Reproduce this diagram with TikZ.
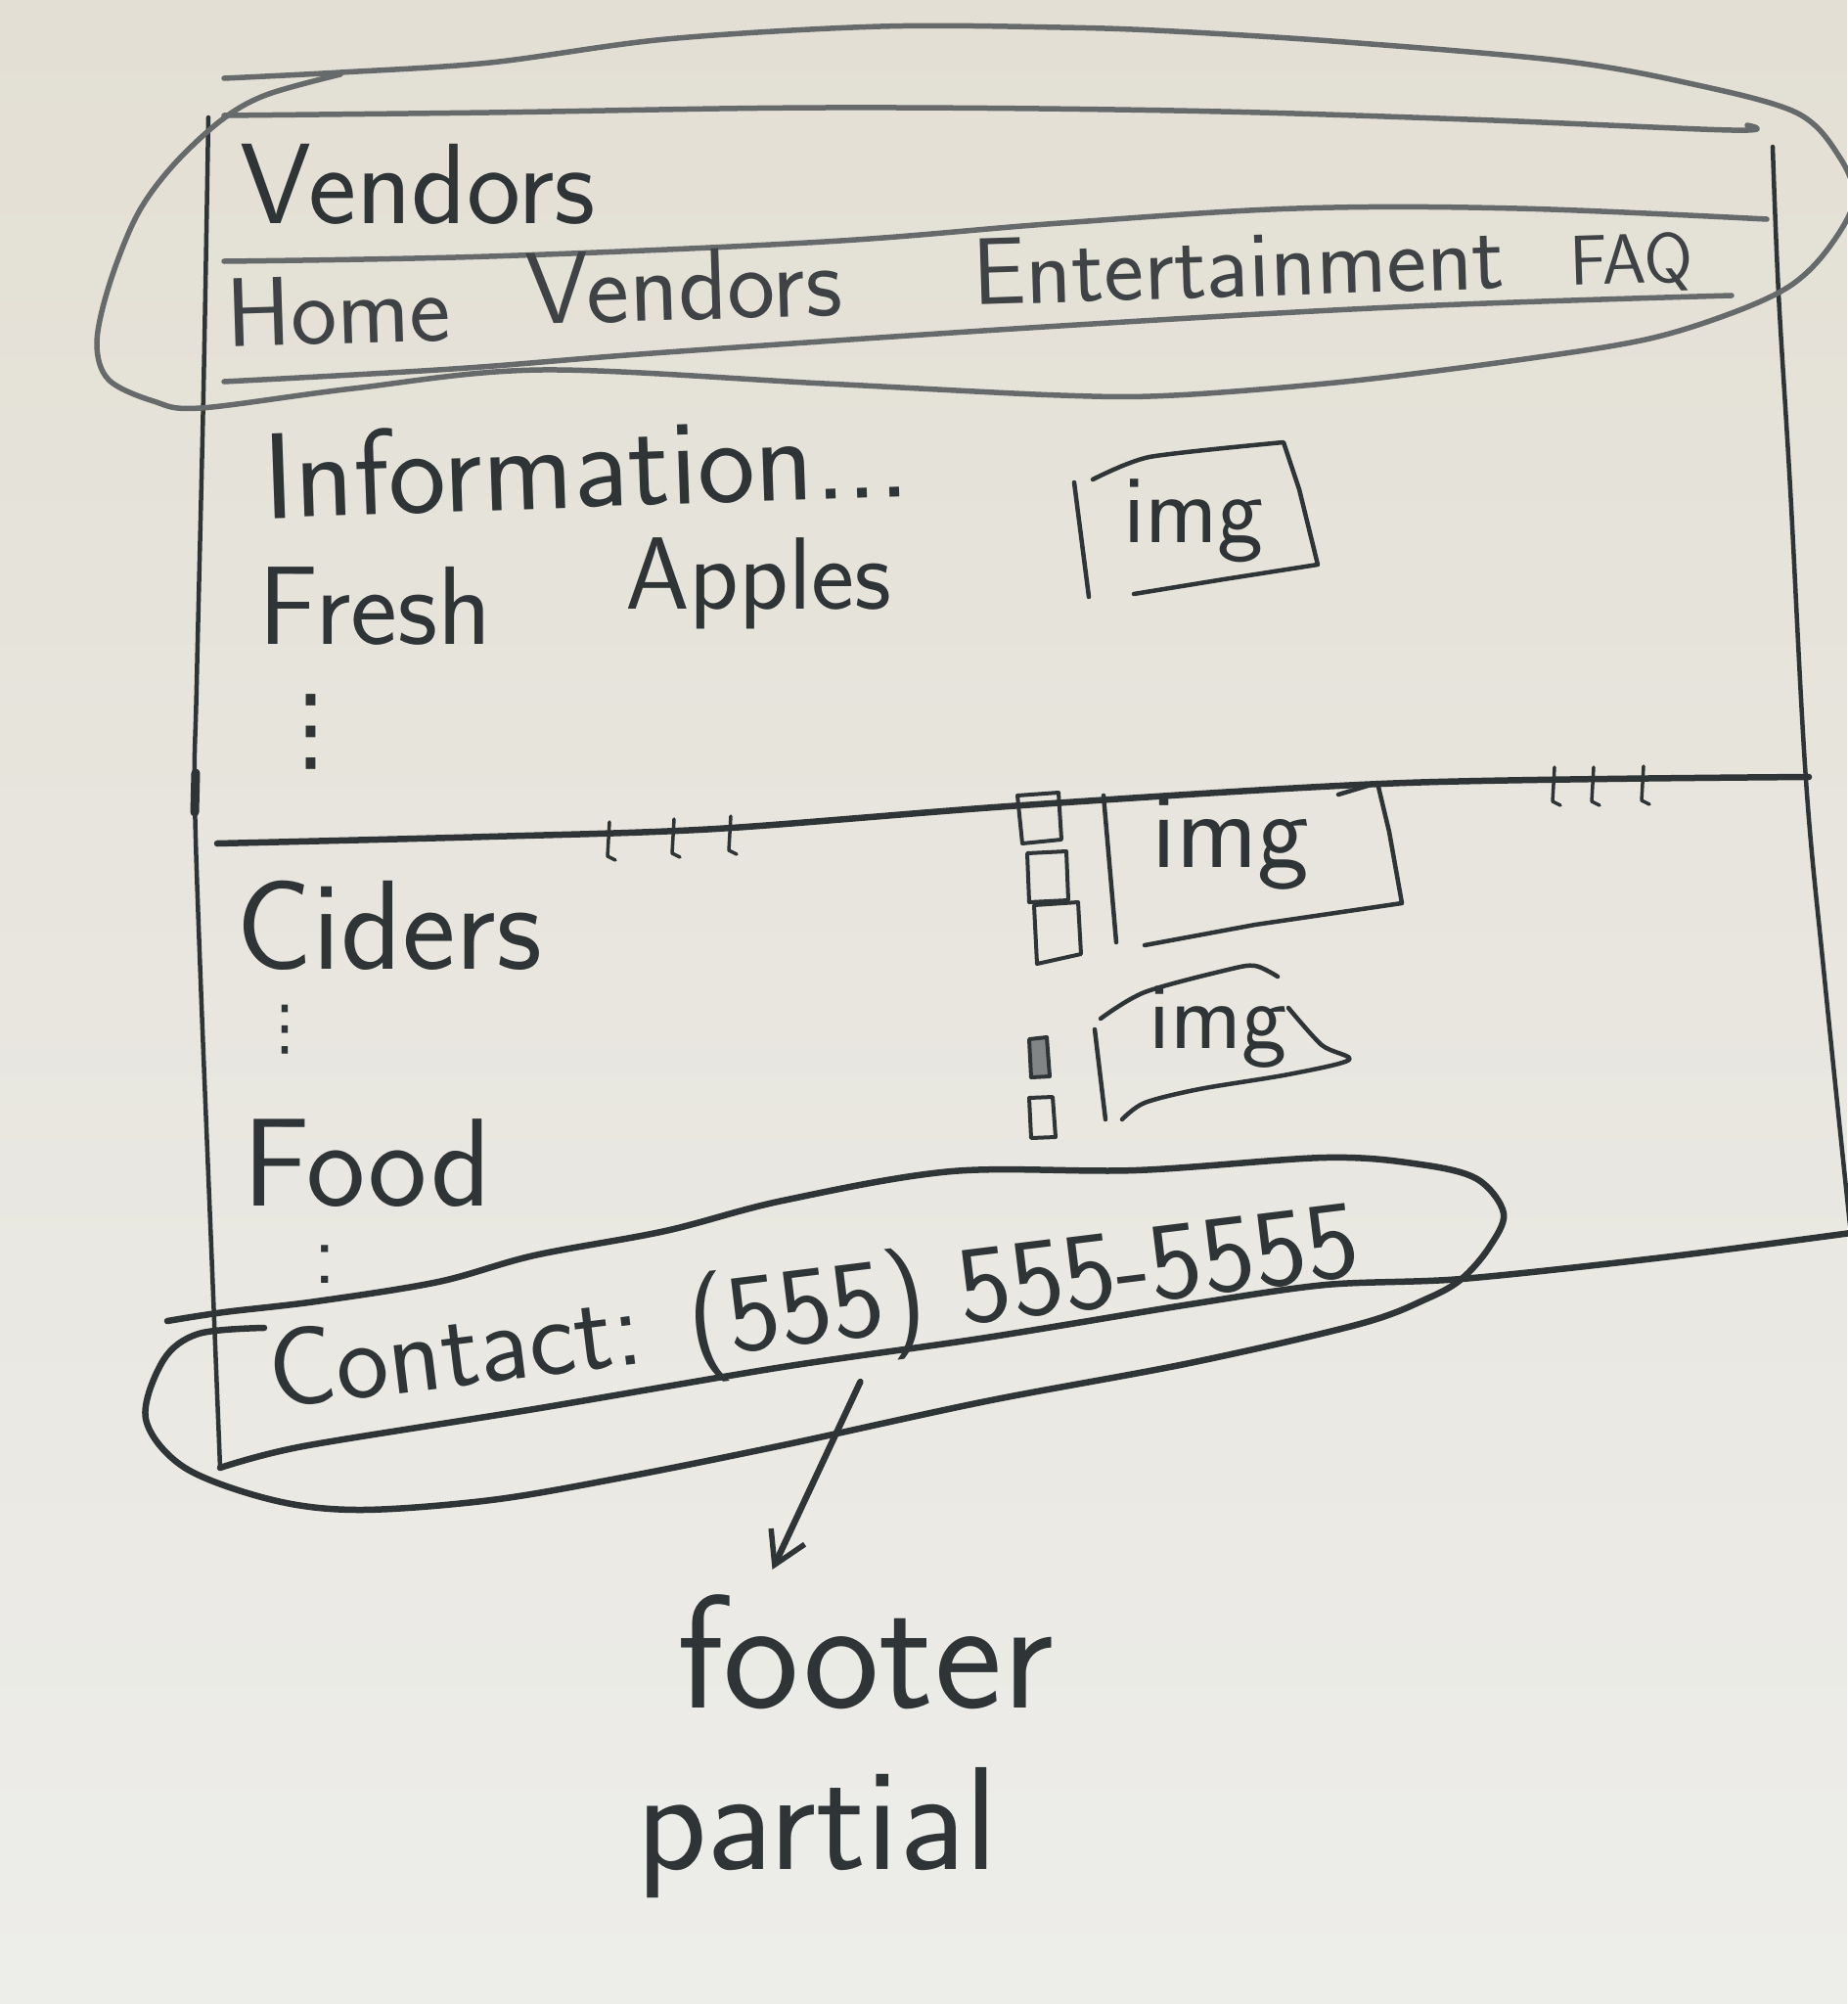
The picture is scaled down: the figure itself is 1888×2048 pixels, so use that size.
\documentclass[tikz,border=0pt]{standalone}
\usepackage{fontspec}
\newfontfamily\dotsfont{DejaVu Sans}
\usetikzlibrary{arrows.meta}
\definecolor{papertop}{HTML}{E3DFD4}
\definecolor{paperbot}{HTML}{EDEDEA}
\definecolor{inkc}{HTML}{2F3436}
\definecolor{navc}{HTML}{3F4345}
\definecolor{pencilc}{HTML}{676A6B}
\begin{document}
\begin{tikzpicture}[x=1pt,y=-1pt,
  ink/.style={draw=inkc, line width=6.5pt, line cap=round, line join=round},
  thinink/.style={draw=inkc, line width=4.5pt, line cap=round, line join=round},
  pencil/.style={draw=pencilc, line width=5.5pt, line cap=round, line join=round},
  hand/.style={font=\sffamily\fontsize{#1}{#1}\selectfont, text=inkc, inner sep=0pt},
  pointer/.style={ink, -{Straight Barb[length=32pt,width=38pt,line width=5.5pt]}}
]
% sheet of paper
\useasboundingbox (0,0) rectangle (1888,2048);
\shade[top color=papertop, bottom color=paperbot] (0,0) rectangle (1888,2048);

% ---------- page frame ----------
\draw[pencil] plot[smooth, tension=0.6] coordinates {(229,118) (500,115) (843,110) (1200,113) (1500,122) (1770,133) (1786,128)};
\draw[thinink] plot[smooth, tension=0.6] coordinates {(1812,150) (1818,300) (1830,500) (1846,797) (1865,1000) (1892,1262)};
\draw[thinink] plot[smooth, tension=0.6] coordinates {(213,120) (208,400) (201,700) (199,810) (205,1000) (217,1300) (225,1500)};
\draw[inkc, line width=9pt, line cap=round] (200,790) -- (199,830);
\draw[ink] plot[smooth, tension=0.5] coordinates {(225,1500) (310,1478) (546,1440) (800,1397) (1008,1367) (1216,1333) (1355,1313) (1494,1307) (1700,1285) (1892,1260)};

% header rows
\draw[pencil] plot[smooth, tension=0.6] coordinates {(229,267) (500,262) (843,247) (1084,228) (1325,213) (1551,213) (1806,224)};
\draw[pencil] plot[smooth, tension=0.6] coordinates {(229,390) (463,377) (681,360) (1084,333) (1445,313) (1770,302)};

% header loop
\draw[pencil] plot[smooth, tension=0.55] coordinates {(229,80) (348,74) (501,64) (681,40) (900,27) (1084,28) (1200,32) (1375,43) (1595,62) (1726,85) (1836,115) (1880,160) (1895,205) (1868,255) (1830,292) (1770,320) (1682,347) (1551,368) (1375,390) (1200,404) (1084,404) (843,392) (554,378) (361,397) (205,417) (157,410) (111,388) (99,350) (112,290) (140,220) (176,170) (226,123) (272,97) (348,76)};

% section divider with tick marks
\draw[ink] plot[smooth, tension=0.5] coordinates {(222,862) (500,855) (732,847) (1045,823) (1437,800) (1849,794)};
\foreach \tx/\ty in {623/853, 689/850, 747/847, 1589/797, 1629/797, 1680/796}
  \draw[thinink, line width=3.5pt] (\tx,\ty-13) -- (\tx-2,\ty+22) -- (\tx+6,\ty+26);

% ---------- header text ----------
\node[hand=117, anchor=base west] (title) at (245,228) {Vendors};
\node[hand=100, anchor=base west, rotate=1.8, text=navc] (navhome) at (232,355) {Home};
\node[hand=104, anchor=base west, rotate=1.8, text=navc] (navvend) at (538,332) {Vendors};
\node[hand=97, anchor=base west, rotate=1.8, text=navc] (navent) at (995,312) {Entertainment};
\node[hand=72, anchor=base west, rotate=1.8, text=navc] (navfaq) at (1605,292) {FAQ};

% ---------- first section ----------
\node[hand=125, anchor=base west, rotate=2] (info) at (270,530) {Information...};
\node[hand=114, anchor=base west] (fresh) at (264,658) {Fresh};
\node[hand=105, anchor=base west] (apples) at (639,622) {Apples};
\node[font=\dotsfont\fontsize{95}{95}\selectfont, text=inkc, inner sep=0pt] (moreinfo) at (318,748) {⋮};

\draw[thinink] (1098,493) -- (1113,610);
\draw[thinink] plot[smooth, tension=0.4] coordinates {(1117,490) (1175,467) (1312,452)} -- (1328,500) -- (1347,577) -- (1251,592) -- (1159,607);
\node[hand=100] (img1) at (1220,532) {img};

% ---------- second section ----------
\node[hand=130, anchor=base west] (ciders) at (241,990) {Ciders};
\node[font=\dotsfont\fontsize{62}{62}\selectfont, text=inkc, inner sep=0pt] (moreciders) at (291,1052) {⋮};
\node[hand=128, anchor=base west] (food) at (248,1232) {Food};
\node[hand=90, inner sep=0pt] (morefood) at (332,1292) {:};

% small handles beside the images
\draw[thinink, line width=4pt] (1040,813) -- (1082,810) -- (1085,858) -- (1045,862) -- cycle;
\draw[thinink, line width=4pt] (1050,872) -- (1090,870) -- (1092,920) -- (1052,922) -- cycle;
\draw[thinink, line width=4pt] (1057,925) -- (1102,922) -- (1105,975) -- (1060,985) -- cycle;
\draw[thinink, line width=4pt, fill=inkc!60] (1052,1062) -- (1070,1060) -- (1073,1100) -- (1054,1101) -- cycle;
\draw[thinink, line width=4pt] (1052,1122) -- (1076,1121) -- (1079,1162) -- (1054,1163) -- cycle;

\draw[thinink] (1128,813) -- (1141,963);
\draw[thinink] (1368,812) -- (1408,800) -- (1420,850) -- (1433,923) -- (1283,945) -- (1170,966);
\node[hand=112] (img2) at (1258,862) {img};

\draw[thinink] (1119,1052) -- (1130,1144);
\draw[thinink] plot[smooth, tension=0.5] coordinates {(1125,1041) (1170,1014) (1255,991) (1283,987) (1306,998)};
\draw[thinink] plot[smooth, tension=0.5] coordinates {(1317,1030) (1351,1068) (1379,1083) (1317,1098) (1226,1113) (1170,1127) (1147,1144)};
\node[hand=98] (img3) at (1245,1050) {img};

% ---------- footer ----------
\draw[ink] plot[smooth, tension=0.55] coordinates {(171,1350) (229,1341) (323,1330) (448,1310) (546,1283) (680,1258) (800,1227) (973,1197) (1161,1196) (1355,1183) (1452,1190) (1510,1205) (1537,1240) (1522,1275) (1494,1307) (1459,1327) (1390,1353) (1216,1393) (1008,1432) (800,1477) (636,1510) (502,1533) (368,1543) (279,1533) (189,1500) (149,1450) (167,1390) (203,1363) (270,1357)};
\node[hand=114, anchor=base west, rotate=7] (contact) at (279,1440) {Contact: (555) 555-5555};

% ---------- annotation ----------
\node[hand=165, anchor=base west] (footerlbl) at (692,1745) {footer};
\node[hand=150, anchor=base west] (partiallbl) at (650,1910) {partial};
\coordinate (fend) at ([xshift=-95pt, yshift=25pt]footerlbl.north);
\draw[pointer] ([shift={(40,12)}]contact.south) -- (fend);
\end{tikzpicture}
\end{document}
